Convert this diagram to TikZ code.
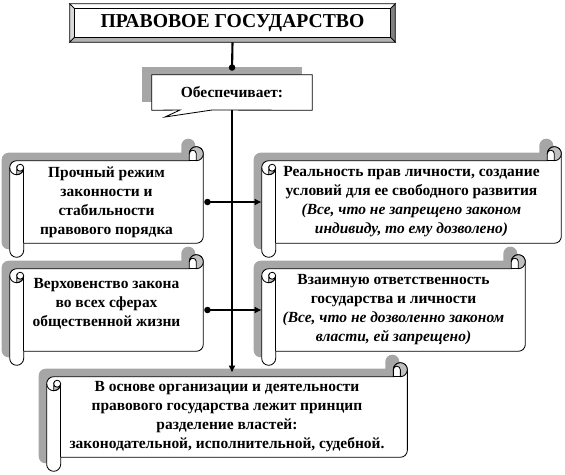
\documentclass[tikz,border=0pt]{standalone}
\usepackage{fontspec}
\setmainfont{Liberation Serif}
\usetikzlibrary{backgrounds,arrows.meta}

\newcommand\rollc{0.35cm}
\newcommand\rollh{0.175cm}
\newcommand\rollq{0.0875cm}

% #1 node, #2 shift, #3 style
\newcommand\scrollpath[3]{%
  \path[#3] ([shift={#2},yshift=-1.5*\rollc]#1.north west)
    arc[start angle=180,end angle=90,radius=\rollh]
    -- ([shift={#2},xshift=-\rollc,yshift=-\rollc]#1.north east) -- ++(0,\rollh)
    arc[start angle=180,end angle=0,radius=\rollh]
    -- ([shift={#2},yshift=1.5*\rollc]#1.south east)
    arc[start angle=0,end angle=-90,radius=\rollh]
    -- ([shift={#2},xshift=\rollc,yshift=\rollc]#1.south west) -- ++(0,-\rollh)
    arc[start angle=0,end angle=-180,radius=\rollh] -- cycle;}

\newcommand\scrollframe[1]{%
  \scrollpath{#1}{(0,0)}{rollframe}
  \path[rollcurl] ([xshift=-\rollh,yshift=-\rollc]#1.north east)
    arc[start angle=-90,end angle=180,radius=\rollh]
    arc[start angle=180,end angle=0,radius=\rollq] -- cycle;
  \path[rollline] ([xshift=-\rollc,yshift=-\rollc]#1.north east) -- ++(\rollh,0);
  \path[rollcurl] ([xshift=\rollh,yshift=-2*\rollc]#1.north west)
    arc[start angle=-90,end angle=0,radius=\rollh]
    arc[start angle=0,end angle=-180,radius=\rollq] -- cycle;
  \path[rollline] ([xshift=\rollh,yshift=-1.5*\rollc]#1.north west)
    arc[start angle=180,end angle=0,radius=\rollq];
  \path[rollline] ([xshift=\rollc,yshift=-1.5*\rollc]#1.north west)
    arc[start angle=0,end angle=-180,radius=\rollh];
  \path[rollline] ([xshift=\rollc,yshift=-1.5*\rollc]#1.north west)
    -- ([xshift=\rollc,yshift=\rollc]#1.south west);}

\begin{document}
\begin{tikzpicture}
\tikzset{link/.style={draw=black,line width=1.5pt}}
\tikzset{rollframe/.style={draw=black,fill=white,line width=0.6pt}}
\tikzset{rollshadow/.style={fill=black!35}}
\tikzset{rollcurl/.style={draw=black,fill=black!25,line width=0.6pt}}
\tikzset{rollline/.style={draw=black,line width=0.6pt}}
\tikzset{bevel/.style={draw=black,line width=0.5pt}}
\tikzset{scrollbox/.style={inner sep=0pt,align=center,font=\bfseries\fontsize{11}{13.5}\selectfont}}
\tikzset{titlebox/.style={inner sep=0pt,font=\bfseries\fontsize{14}{16}\selectfont}}

\begin{scope}[x={(0.025cm,0cm)},y={(0cm,-0.025cm)}]
\useasboundingbox (0,0) rectangle (565,474);

\node[titlebox, minimum width=8.125cm, minimum height=0.95cm] (state) at (232.5,23)
  {ПРАВОВОЕ ГОСУДАРСТВО};
\node[scrollbox, minimum width=4cm, minimum height=0.875cm] (provides) at (232,92.5)
  {Обеспечивает:};

\node[scrollbox, minimum width=4.825cm, minimum height=2.75cm] (regime) at (106.5,202)
  {Прочный режим\\законности и\\стабильности\\правового порядка};
\node[scrollbox, minimum width=7.475cm, minimum height=2.75cm] (rights) at (411.5,202)
  {Реальность прав личности, создание\\условий для ее свободного развития\\
   \textit{(Все, что не запрещено законом}\\\textit{индивиду, то ему дозволено)}};
\node[scrollbox, minimum width=4.825cm, minimum height=2.75cm] (supremacy) at (106.5,310)
  {Верховенство закона\\во всех сферах\\общественной жизни\\[-2.3pt]\mbox{}};
\node[scrollbox, minimum width=6.575cm, minimum height=2.75cm] (duty) at (393.5,310)
  {Взаимную ответственность\\государства и личности\\
   \textit{(Все, что не дозволенно законом}\\\textit{власти, ей запрещено)}};
\node[scrollbox, minimum width=9cm, minimum height=2.7cm] (base) at (227,417)
  {В основе организации и деятельности\\правового государства лежит принцип\\
   разделение властей:\\законодательной, исполнительной, судебной.};

\begin{scope}[on background layer]
\coordinate (bnw) at ([shift={(0.125cm,-0.125cm)}]state.north west);
\coordinate (bne) at ([shift={(-0.125cm,-0.125cm)}]state.north east);
\coordinate (bsw) at ([shift={(0.125cm,0.125cm)}]state.south west);
\coordinate (bse) at ([shift={(-0.125cm,0.125cm)}]state.south east);
\path[bevel,fill=white] (state.north west) -- (state.north east) -- (bne) -- (bnw) -- cycle;
\path[bevel,fill=black!15] (state.north west) -- (bnw) -- (bsw) -- (state.south west) -- cycle;
\path[bevel,fill=black!50] (state.north east) -- (state.south east) -- (bse) -- (bne) -- cycle;
\path[bevel,fill=black!30] (state.south west) -- (bsw) -- (bse) -- (state.south east) -- cycle;
\path[bevel,fill=white] (bnw) rectangle (bse);

\fill[rollshadow] ([shift={(-0.25cm,0.2cm)}]provides.north west)
  rectangle ([shift={(-0.25cm,0.2cm)}]provides.south east);
\path[rollframe] (provides.north west) -- (provides.north east) -- (provides.south east)
  -- (212,110) -- (165,117) -- (180,110) -- (provides.south west) -- cycle;

\foreach \n in {regime,rights,supremacy,duty,base} {
  \scrollpath{\n}{(-0.2cm,0.2cm)}{rollshadow}
}
\foreach \n in {regime,rights,supremacy,duty,base} {
  \scrollframe{\n}
}
\end{scope}

\draw[link,-{Circle[length=4.5pt]}] (state.south) -- ([yshift=0.1cm]provides.north);
\draw[link,{Circle[length=4.5pt]}-{Latex[length=5pt,width=5pt]}]
  ([xshift=0.025cm]regime.east) -- (regime.east -| rights.west);
\draw[link,{Circle[length=4.5pt]}-{Latex[length=5pt,width=5pt]}]
  ([xshift=0.025cm]supremacy.east) -- (supremacy.east -| duty.west);
\coordinate (drop) at ([yshift=-0.25cm]base.north);
\draw[link,-{Latex[length=5pt,width=5pt]}] (provides.south) -- (provides.south |- drop);

\end{scope}
\end{tikzpicture}
\end{document}
